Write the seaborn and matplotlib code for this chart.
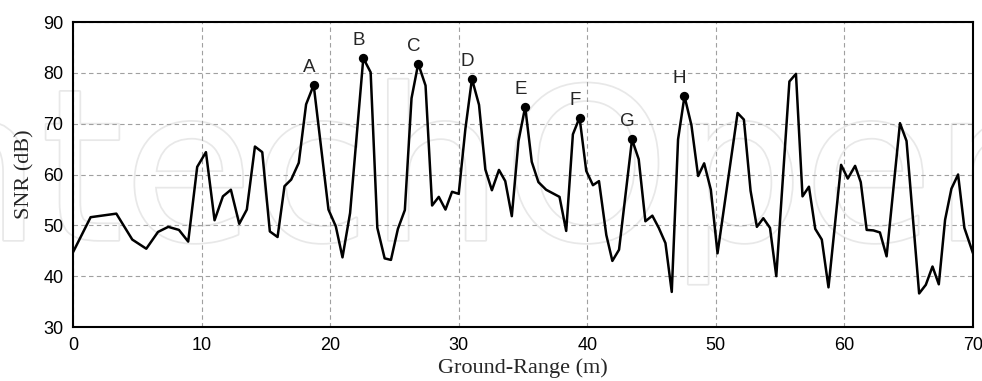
import matplotlib
matplotlib.use("Agg")
import matplotlib.pyplot as plt
import matplotlib.patheffects as pe
import seaborn as sns
import pandas as pd

ground_range = [0.0, 1.37, 3.37, 4.61, 5.70, 6.61, 7.41, 8.24, 8.96, 9.66, 10.34, 11.01,
                11.66, 12.28, 12.93, 13.52, 14.15, 14.72, 15.31, 15.91, 16.45, 16.97, 17.56,
                18.13, 18.72, 19.87, 20.44, 20.96, 21.55, 22.58, 23.15, 23.67, 24.24, 24.73,
                25.27, 25.81, 26.33, 26.85, 27.42, 27.93, 28.45, 28.97, 29.48, 30.0, 30.52,
                31.03, 31.58, 32.07, 32.58, 33.13, 33.62, 34.13, 34.65, 35.17, 35.68, 36.2,
                36.8, 37.84, 38.36, 38.88, 39.4, 39.92, 40.44, 40.91, 41.48, 41.95, 42.47,
                43.48, 44.0, 44.52, 45.06, 45.56, 46.08, 46.57, 47.06, 47.56, 48.1, 48.62,
                49.09, 49.61, 50.13, 51.69, 52.18, 52.7, 53.19, 53.69, 54.21, 54.7, 55.72,
                56.23, 56.74, 57.24, 57.73, 58.24, 58.76, 59.74, 60.26, 60.83, 61.27, 61.73,
                62.25, 62.76, 63.28, 64.32, 64.83, 65.81, 66.33, 66.85, 67.34, 67.83, 68.32,
                68.84, 69.33, 70.0]
snr_db = [44.7, 51.6, 52.3, 47.2, 45.4, 48.7, 49.7, 49.1, 46.8, 61.5, 64.4, 51.0,
          55.7, 57.0, 50.3, 53.1, 65.5, 64.4, 48.8, 47.7, 57.7, 59.0, 62.3,
          73.8, 77.6, 53.1, 49.8, 43.7, 52.4, 82.9, 80.1, 49.5, 43.5, 43.2,
          49.3, 53.0, 75.0, 81.8, 77.5, 53.9, 55.6, 53.1, 56.6, 56.2, 69.0,
          78.8, 73.7, 61.0, 56.9, 60.9, 58.7, 51.8, 66.6, 73.3, 62.5, 58.5,
          57.0, 55.6, 48.9, 67.9, 71.2, 60.7, 57.9, 58.7, 48.1, 43.0, 45.2,
          66.9, 63.0, 50.8, 51.9, 49.5, 46.5, 36.9, 66.9, 75.4, 69.7, 59.7,
          62.2, 57.0, 44.5, 72.1, 70.8, 56.8, 49.7, 51.4, 49.5, 40.0, 78.3,
          79.8, 55.7, 57.6, 49.3, 47.2, 37.8, 61.9, 59.2, 61.7, 58.5, 49.1,
          49.0, 48.6, 43.9, 70.1, 66.6, 36.6, 38.3, 41.9, 38.4, 51.1, 57.2,
          60.0, 49.5, 44.5]

peak_labels = ["A", "B", "C", "D", "E", "F", "G", "H"]
peak_x = [18.72, 22.58, 26.85, 31.03, 35.17, 39.4, 43.48, 47.56]
peak_y = [77.6, 82.9, 81.8, 78.8, 73.3, 71.2, 66.9, 75.4]

x_ticks = [0, 10, 20, 30, 40, 50, 60, 70]
y_ticks = [30, 40, 50, 60, 70, 80, 90]

sns.set_style("white")
plt.rcParams["font.family"] = ["Liberation Sans", "DejaVu Sans"]

df = pd.DataFrame({"Ground-Range (m)": ground_range, "SNR (dB)": snr_db})
peaks = pd.DataFrame({"x": peak_x, "y": peak_y, "label": peak_labels})

fig = plt.figure(figsize=(9.82, 3.81), dpi=100, facecolor="white")
ax = fig.add_axes([73 / 982, 1 - 327 / 381, 900 / 982, 305 / 381])

# faint publisher watermark
ax.text(-93 / 982, 1 - 240 / 381, "ntechOpen", transform=fig.transFigure,
        fontsize=152, family="DejaVu Sans", color="white", zorder=0.1,
        va="baseline", ha="left",
        path_effects=[pe.withStroke(linewidth=2.5, foreground="#e8e8e8")])

sns.lineplot(data=df, x="Ground-Range (m)", y="SNR (dB)", sort=False,
             color="black", linewidth=1.8, ax=ax, zorder=3)
sns.scatterplot(data=peaks, x="x", y="y", color="black", s=45,
                edgecolor="black", linewidth=0, ax=ax, zorder=4)
for _, r in peaks.iterrows():
    ax.annotate(r["label"], (r["x"], r["y"]), xytext=(-3.5, 6.5),
                textcoords="offset points", ha="center", va="bottom",
                fontsize=13.5, zorder=5)

ax.set_xlim(0, 70)
ax.set_ylim(30, 90)
ax.set_xticks(x_ticks)
ax.set_yticks(y_ticks)
ax.tick_params(axis="both", direction="out", length=5, width=1.3,
               labelsize=13, pad=2, colors="black")
ax.grid(True, linestyle=(0, (4, 3)), color="#a0a0a0", linewidth=0.8)
ax.set_axisbelow(True)
for s in ax.spines.values():
    s.set_color("black")
    s.set_linewidth(1.5)

ax.set_xlabel("Ground-Range (m)", family=["Liberation Serif", "DejaVu Serif"],
              fontsize=16, labelpad=3)
ax.set_ylabel("SNR (dB)", family=["Liberation Serif", "DejaVu Serif"],
              fontsize=16, labelpad=6)

fig.savefig("out.png", dpi=100, facecolor="white")
